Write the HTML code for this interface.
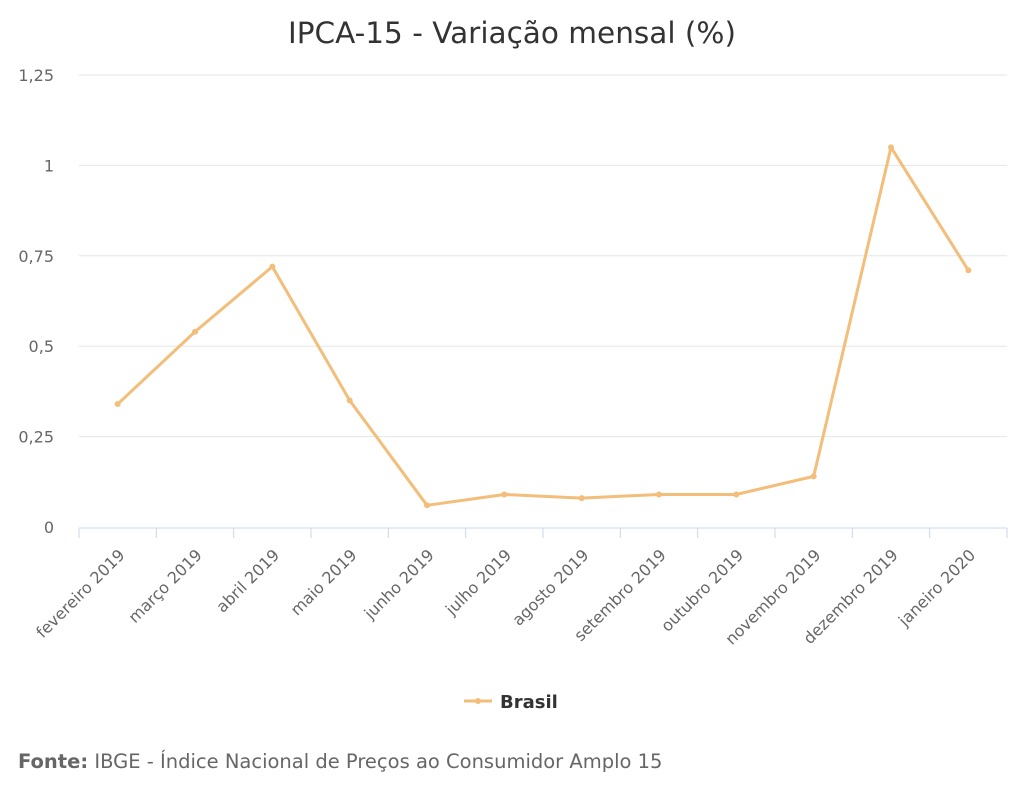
<!DOCTYPE html>
<html><head><meta charset="utf-8"><style>
body{margin:0;background:#fff;}
svg text{font-family:"DejaVu Sans","Liberation Sans",sans-serif;}
</style></head><body>
<svg width="1024" height="800" id="chart">
<text x="512" y="43" text-anchor="middle" font-size="29.5" fill="#333">IPCA-15 - Variação mensal (%)</text>
<g id="grid"></g><g id="xaxis"></g><g id="series"></g>
<g>
<line x1="464" y1="701" x2="492" y2="701" stroke="#f2be7a" stroke-width="3"/>
<circle cx="478" cy="701" r="3" fill="#f2be7a"/>
<text x="500" y="708" font-size="18" font-weight="bold" fill="#333">Brasil</text>
</g>
<text x="18" y="768" font-size="19.5" fill="#666"><tspan font-weight="bold">Fonte:</tspan> IBGE - Índice Nacional de Preços ao Consumidor Amplo 15</text>
</svg>
<script>
const categories=["fevereiro 2019","março 2019","abril 2019","maio 2019","junho 2019","julho 2019","agosto 2019","setembro 2019","outubro 2019","novembro 2019","dezembro 2019","janeiro 2020"];
const values=[0.34,0.54,0.72,0.35,0.06,0.09,0.08,0.09,0.09,0.14,1.05,0.71];
const yTicks=[0,0.25,0.5,0.75,1,1.25];
const yTickLabels=["0","0,25","0,5","0,75","1","1,25"];
const NS="http://www.w3.org/2000/svg";
const L=79,R=1007,T=75,B=527,yMax=1.25;
const bw=(R-L)/categories.length;
const xs=i=>L+bw*(i+0.5);
const ys=v=>B-(v/yMax)*(B-T);
function mk(tag,attrs,parent){const e=document.createElementNS(NS,tag);for(const k in attrs)e.setAttribute(k,attrs[k]);parent.appendChild(e);return e;}
const grid=document.getElementById('grid');
yTicks.forEach((t,i)=>{
 if(t>0){const g=mk('line',{x1:L,x2:R,y1:ys(t),y2:ys(t),stroke:'#e6e6e6'},grid);
 
 }
 const tx=mk('text',{x:54,y:ys(t)+6,'text-anchor':'end','font-size':16,fill:'#666'},grid);
 tx.textContent=yTickLabels[i];
 
 
});
const xa=document.getElementById('xaxis');
const ax=mk('line',{x1:L,x2:R,y1:B+1,y2:B+1,stroke:'#ccd6eb'},xa);


for(let i=0;i<=categories.length;i++){
 const tk=mk('line',{x1:L+bw*i,x2:L+bw*i,y1:B+1,y2:B+11,stroke:'#ccd6eb'},xa);
 
 
}
categories.forEach((c,i)=>{
 const x=xs(i)+8,y=B+29;
 const tx=mk('text',{x:x,y:y,'text-anchor':'end','font-size':16,fill:'#666',transform:`rotate(-45 ${x} ${y})`},xa);
 tx.textContent=c;
 
 
});
const s=document.getElementById('series');
const pl=mk('polyline',{points:values.map((v,i)=>xs(i)+','+ys(v)).join(' '),fill:'none',stroke:'#f2be7a','stroke-width':3,'stroke-linejoin':'round'},s);


values.forEach((v,i)=>{
 const c=mk('circle',{cx:xs(i),cy:ys(v),r:3,fill:'#f2be7a'},s);
 
 
});
</script>
</body></html>
